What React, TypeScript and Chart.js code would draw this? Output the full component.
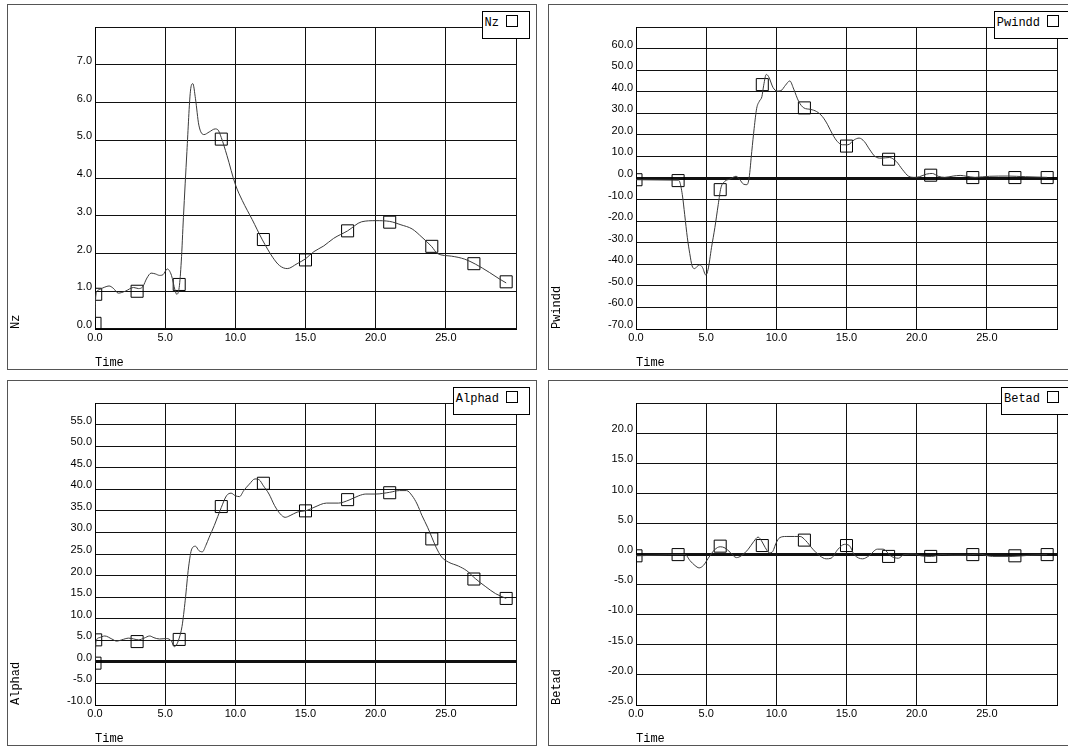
import React, { useEffect, useRef } from 'react';
import { Chart, registerables } from 'chart.js';

Chart.register(...registerables);

// ---------- Nz ----------
const nzTime = [0, 0.05, 0.15, 0.35, 0.7, 1.0, 1.3, 1.66, 2.15, 2.75, 3.1, 3.4, 3.7, 4.0, 4.3, 4.6, 4.85, 5.15, 5.45, 5.7, 5.82, 6.0, 6.15, 6.3, 6.55, 6.8, 6.97, 7.16, 7.4, 7.77, 8.14, 8.56, 8.75, 9.0, 9.4, 10.0, 10.5, 11.2, 11.93, 12.66, 13.15, 13.7, 14.4, 15.0, 15.6, 16.3, 17.0, 18.0, 19.0, 20.0, 21.0, 21.8, 22.6, 23.3, 24.0, 24.4, 25.4, 26.35, 27.1, 28.1, 28.8, 29.3];
const nzValues = [0.3, 0.85, 1.0, 1.05, 1.11, 1.14, 1.08, 0.95, 1.0, 1.1, 1.07, 1.12, 1.35, 1.48, 1.46, 1.42, 1.44, 1.59, 1.42, 1.03, 0.92, 1.1, 1.8, 2.95, 4.7, 6.3, 6.5, 6.1, 5.4, 5.15, 5.22, 5.3, 5.28, 5.07, 4.6, 3.83, 3.4, 2.9, 2.36, 1.9, 1.68, 1.6, 1.73, 1.86, 2.05, 2.2, 2.4, 2.6, 2.84, 2.87, 2.85, 2.76, 2.65, 2.43, 2.18, 2.0, 1.93, 1.85, 1.72, 1.5, 1.33, 1.22];
const nzMarkTime = [0, 0.05, 3, 6, 9, 12, 15, 18, 21, 24, 27, 29.3];
const nzMarkValues = [0.15, 0.92, 1.0, 1.18, 5.03, 2.37, 1.83, 2.6, 2.83, 2.19, 1.73, 1.25];

// ---------- Pwindd ----------
const pwTime = [0, 1.5, 3.0, 3.1, 3.3, 3.47, 3.66, 3.83, 4.0, 4.19, 4.35, 4.55, 4.74, 4.98, 5.14, 5.38, 5.62, 5.86, 6.05, 6.34, 6.7, 7.13, 7.4, 7.65, 7.9, 8.06, 8.25, 8.42, 8.6, 8.8, 8.97, 9.1, 9.28, 9.45, 9.76, 10.05, 10.33, 10.65, 10.96, 11.24, 11.6, 11.96, 12.44, 12.87, 13.28, 13.64, 14.0, 14.35, 14.7, 15.1, 15.55, 15.9, 16.27, 16.63, 17.03, 17.46, 18.06, 18.54, 19.0, 19.43, 19.86, 20.2, 20.7, 21.12, 21.53, 22.0, 22.6, 23.1, 23.56, 24.16, 25.2, 26.5, 27.75, 29.3];
const pwValues = [-0.8, -0.9, -1.0, -1.5, -7.7, -17, -27.7, -35, -40.8, -42, -41, -40.3, -41.5, -45, -42.3, -32.3, -23, -12.3, -4.6, -1.5, -0.5, 0.8, -0.8, -2.8, -3.1, 0, 12.3, 23, 32.3, 35.7, 37.7, 43, 48, 47, 42, 40.3, 40.5, 43, 45, 41.2, 35.4, 32.5, 31.8, 30.8, 28.5, 24.9, 20.3, 16.9, 15.4, 15.4, 17.7, 18.5, 16.9, 13.4, 10, 9.2, 9.5, 7.7, 3.8, 0.8, 0.3, 0.6, 1.8, 2.1, 0.8, 0.3, 0.9, 1.2, 0.8, 0.3, 0.8, 0.9, 0.6, 0.3];
const pwMarkTime = [0, 3, 6, 9, 12, 15, 18, 21, 24, 27, 29.3];
const pwMarkValues = [-0.8, -1.2, -5.4, 43.3, 32.5, 14.8, 8.7, 1.3, 0.2, 0.2, 0.2];

// ---------- Alphad ----------
const alTime = [0, 0.08, 0.3, 0.7, 1.2, 1.55, 1.9, 2.4, 2.76, 3.1, 3.5, 3.9, 4.2, 4.6, 5.1, 5.45, 5.65, 5.8, 6.0, 6.2, 6.43, 6.67, 6.9, 7.16, 7.4, 7.65, 7.9, 8.14, 8.5, 9.0, 9.37, 9.7, 10.0, 10.3, 10.6, 11.0, 11.4, 11.7, 12.0, 12.4, 12.8, 13.2, 13.55, 13.9, 14.4, 15.1, 15.6, 16.5, 17.35, 18.1, 18.8, 19.3, 20.0, 21.0, 21.7, 22.2, 22.6, 22.95, 23.3, 23.7, 24.0, 24.3, 24.7, 25.2, 25.9, 26.5, 27.1, 27.85, 28.55, 29.3];
const alValues = [-0.3, 4.8, 5.6, 6.0, 5.3, 4.8, 5.1, 5.5, 5.3, 5.1, 5.5, 6.0, 5.6, 5.3, 5.4, 4.8, 3.5, 3.9, 5.5, 8.2, 14.3, 22, 26.2, 26.8, 25.8, 25.5, 27, 28.9, 31.6, 35.8, 38.5, 39.1, 38.5, 38.3, 39.7, 41.2, 42.4, 42.2, 40.8, 38.9, 36.2, 34.3, 33.5, 33.9, 34.7, 35.1, 35.8, 36.8, 36.8, 37.5, 38.5, 38.9, 38.9, 39.3, 39.7, 39.7, 38.5, 36.6, 33.9, 31.2, 28.9, 26.6, 24.3, 23.1, 22.2, 21.1, 19.3, 17.4, 15.8, 14.7];
const alMarkTime = [0, 0.05, 3, 6, 9, 12, 15, 18, 21, 24, 27, 29.3];
const alMarkValues = [-0.3, 5.1, 4.7, 5.2, 36, 41.4, 35, 37.6, 39.2, 28.5, 19.2, 14.7];

// ---------- Betad ----------
const beTime = [0, 1.5, 3.0, 3.5, 3.85, 4.2, 4.5, 4.8, 5.15, 5.6, 6.0, 6.34, 6.7, 7.16, 7.5, 8.0, 8.4, 8.7, 8.94, 9.2, 9.5, 9.7, 10.0, 10.24, 10.7, 11.3, 11.7, 12.1, 12.6, 13.1, 13.55, 13.9, 14.4, 14.85, 15.2, 15.55, 16.15, 16.6, 17.2, 17.6, 18.2, 18.7, 19.1, 19.85, 20.3, 21.05, 21.8, 22.6, 23.45, 24.4, 25.4, 26.8, 28.1, 29.3];
const beValues = [-0.3, -0.2, -0.1, -0.1, -1.1, -1.9, -2.3, -1.9, -0.7, 0.7, 1.2, 1.0, 0.3, -0.6, -0.3, 0.8, 2.1, 2.8, 2.2, 1.1, 0.2, 0.3, 1.9, 2.7, 2.9, 2.9, 2.9, 2.2, 0.8, -0.3, -0.8, -0.7, 0.8, 1.6, 1.4, -0.1, -0.8, -0.3, 0.8, 0.8, -0.4, -0.7, -0.1, 0, -0.3, -0.4, -0.1, -0.2, -0.2, 0, -0.4, -0.4, -0.2, -0.1];
const beMarkTime = [0, 3, 6, 9, 12, 15, 18, 21, 24, 27, 29.3];
const beMarkValues = [-0.3, -0.1, 1.3, 1.4, 2.3, 1.4, -0.4, -0.4, -0.1, -0.3, -0.1];

// ---------- axes ----------
const timeMin = 0;
const timeMax = 30;
const timeStep = 5;
const xTitle = 'Time';

const MONO = '"Liberation Mono", "DejaVu Sans Mono", monospace';
const SANS = '"Liberation Sans", Arial, sans-serif';

type PanelProps = {
  name: string;
  curveT: number[];
  curveV: number[];
  markT: number[];
  markV: number[];
  yMin: number;
  yMax: number;
  yStep: number;
  zeroWidth: number;
  left: number;
  top: number;
};

const PANEL_W = 530;
const PANEL_H = 366;
const CANVAS_W = PANEL_W - 2;
const CANVAS_H = PANEL_H - 2;

function Panel(p: PanelProps) {
  const ref = useRef<HTMLCanvasElement>(null);
  useEffect(() => {
    if (!ref.current) return;
    const chart = new Chart(ref.current, {
      type: 'line',
      data: {
        datasets: [
          {
            label: p.name,
            data: p.curveT.map((t, i) => ({ x: t, y: p.curveV[i] })),
            borderColor: '#3a3a3a',
            borderWidth: 1,
            pointRadius: 0,
            cubicInterpolationMode: 'monotone',
            fill: false,
            clip: 0,
          } as any,
          {
            label: p.name + ' markers',
            data: p.markT.map((t, i) => ({ x: t, y: p.markV[i] })),
            showLine: false,
            pointStyle: 'rect',
            pointRadius: 8.5,
            borderColor: '#000',
            borderWidth: 1,
            backgroundColor: 'rgba(0,0,0,0)',
            clip: 0,
          } as any,
        ],
      },
      options: {
        responsive: false,
        animation: false,
        events: [],
        layout: { padding: { left: 0, top: 22, right: 20, bottom: 0 } },
        plugins: { legend: { display: false }, tooltip: { enabled: false } },
        scales: {
          x: {
            type: 'linear',
            min: timeMin,
            max: timeMax,
            afterFit: (s: any) => {
              s.height = 40;
            },
            ticks: {
              stepSize: timeStep,
              autoSkip: false,
              maxRotation: 0,
              padding: 2,
              color: '#000',
              font: { family: SANS, size: 11 },
              callback: (v: any) => (Number(v) === timeMax ? '' : Number(v).toFixed(1)),
            },
            grid: { color: '#111', lineWidth: 1, drawTicks: false },
            border: { color: '#000', width: 1 },
            title: {
              display: true,
              text: xTitle,
              align: 'start',
              color: '#000',
              font: { family: MONO, size: 12, lineHeight: 1 },
              padding: { top: 0, bottom: 0 },
            },
          },
          y: {
            type: 'linear',
            min: p.yMin,
            max: p.yMax,
            afterFit: (s: any) => {
              s.width = 87;
            },
            ticks: {
              stepSize: p.yStep,
              autoSkip: false,
              padding: 3,
              labelOffset: -4,
              color: '#000',
              font: { family: SANS, size: 11 },
              callback: (v: any) => (Number(v) === p.yMax ? '' : Number(v).toFixed(1)),
            },
            grid: {
              color: '#111',
              lineWidth: (c: any) => (c.tick && c.tick.value === 0 ? p.zeroWidth : 1),
              drawTicks: false,
            },
            border: { color: '#000', width: 1 },
            title: {
              display: true,
              text: p.name,
              align: 'start',
              color: '#000',
              font: { family: MONO, size: 12, lineHeight: 1 },
              padding: { top: 2, bottom: 0 },
            },
          },
        },
      } as any,
    });
    return () => chart.destroy();
  }, []);

  return (
    <div
      style={{
        position: 'absolute',
        left: p.left,
        top: p.top,
        width: PANEL_W,
        height: PANEL_H,
        boxSizing: 'border-box',
        border: '1px solid #555',
        background: '#fff',
      }}
    >
      <canvas ref={ref} width={CANVAS_W} height={CANVAS_H} style={{ display: 'block', width: CANVAS_W, height: CANVAS_H }} />
      <div
        style={{
          position: 'absolute',
          top: 6,
          right: 6,
          height: 28,
          boxSizing: 'border-box',
          border: '1px solid #000',
          background: '#fff',
          padding: '3px 11px 0 2px',
          font: `12px ${MONO}`,
          lineHeight: '14px',
          color: '#000',
          whiteSpace: 'nowrap',
        }}
      >
        <span>{p.name}</span>
        <span
          style={{
            display: 'inline-block',
            width: 10,
            height: 10,
            border: '1px solid #000',
            marginLeft: 7,
            verticalAlign: '-1px',
          }}
        />
      </div>
    </div>
  );
}

export default function App() {
  return (
    <div
      style={{
        position: 'absolute',
        left: 0,
        top: 0,
        width: 1068,
        height: 746,
        overflow: 'hidden',
        background: '#fff',
      }}
    >
      <Panel name="Nz" curveT={nzTime} curveV={nzValues} markT={nzMarkTime} markV={nzMarkValues} yMin={0} yMax={8} yStep={1} zeroWidth={2} left={7} top={4} />
      <Panel name="Pwindd" curveT={pwTime} curveV={pwValues} markT={pwMarkTime} markV={pwMarkValues} yMin={-70} yMax={70} yStep={10} zeroWidth={3} left={548} top={4} />
      <Panel name="Alphad" curveT={alTime} curveV={alValues} markT={alMarkTime} markV={alMarkValues} yMin={-10} yMax={60} yStep={5} zeroWidth={3} left={7} top={380} />
      <Panel name="Betad" curveT={beTime} curveV={beValues} markT={beMarkTime} markV={beMarkValues} yMin={-25} yMax={25} yStep={5} zeroWidth={3} left={548} top={380} />
    </div>
  );
}
